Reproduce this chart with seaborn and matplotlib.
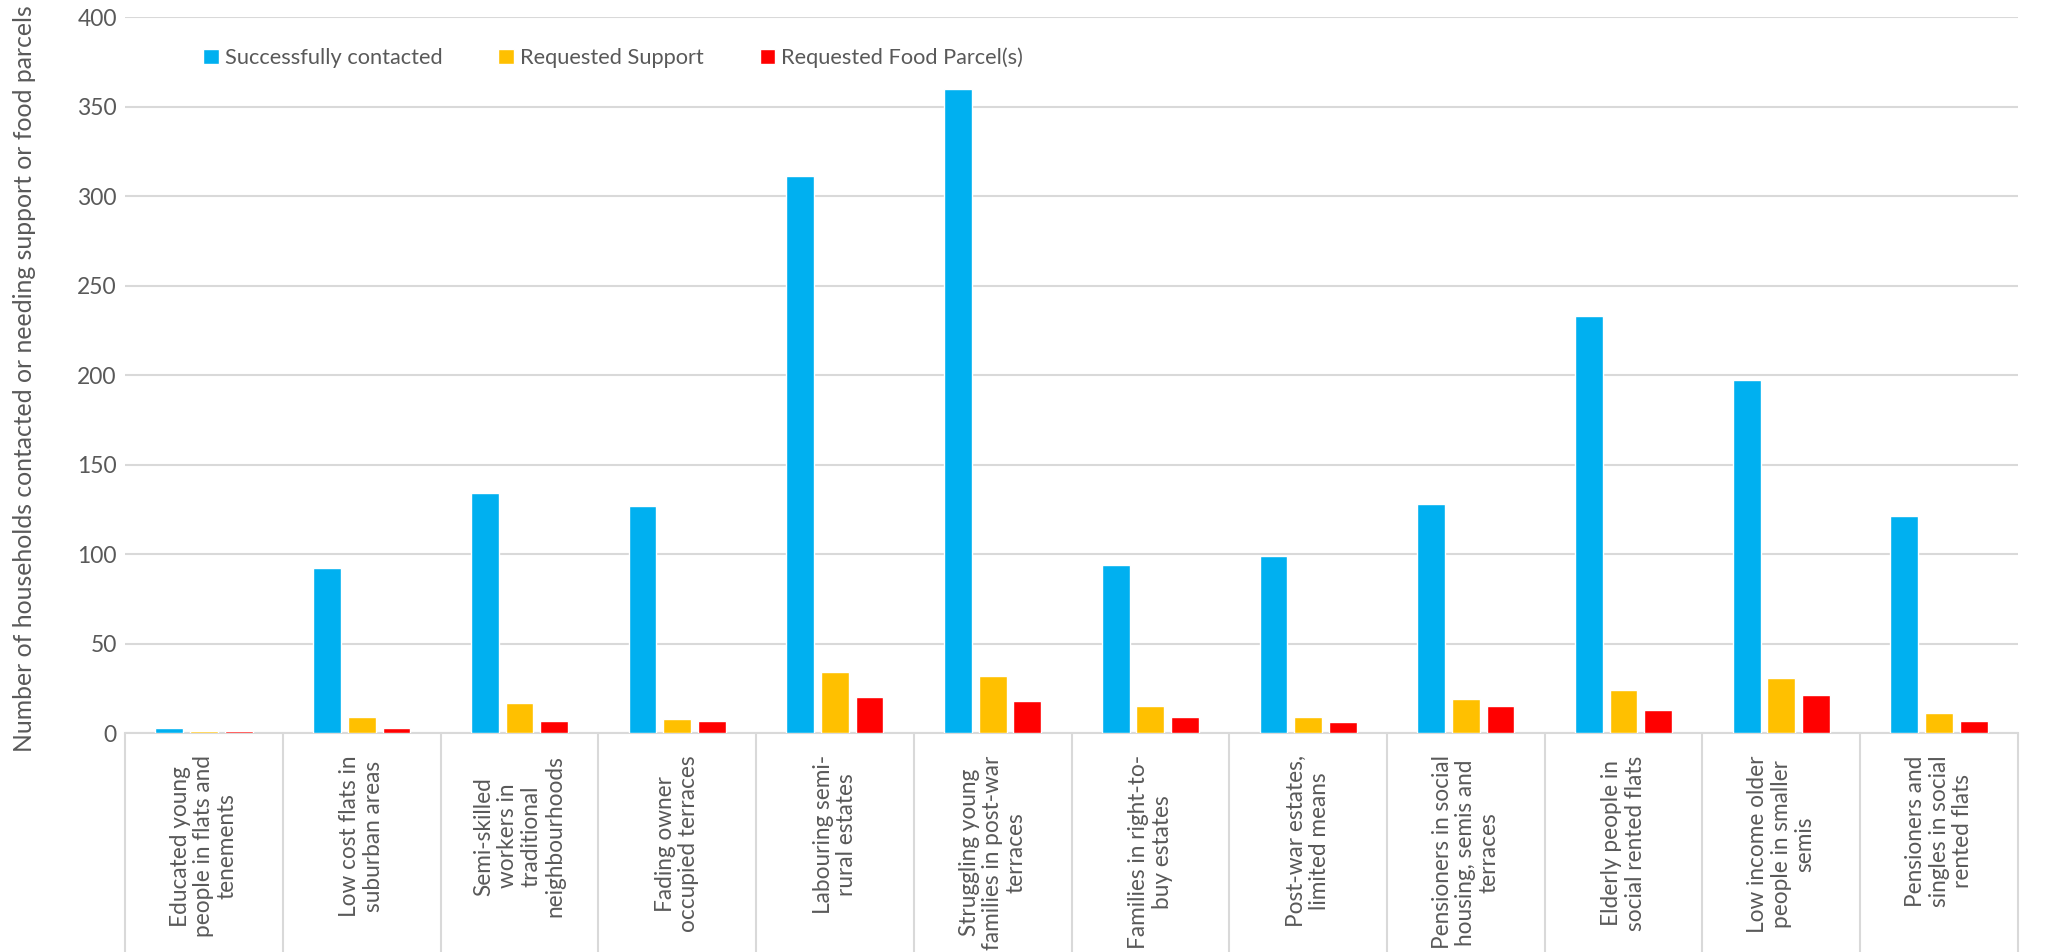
import numpy as np
import pandas as pd
import matplotlib
matplotlib.use("Agg")
import matplotlib.pyplot as plt
import seaborn as sns

# data
categories = [
    "Educated young\npeople in flats and\ntenements",
    "Low cost flats in\nsuburban areas",
    "Semi-skilled\nworkers in\ntraditional\nneighbourhoods",
    "Fading owner\noccupied terraces",
    "Labouring semi-\nrural estates",
    "Struggling young\nfamilies in post-war\nterraces",
    "Families in right-to-\nbuy estates",
    "Post-war estates,\nlimited means",
    "Pensioners in social\nhousing, semis and\nterraces",
    "Elderly people in\nsocial rented flats",
    "Low income older\npeople in smaller\nsemis",
    "Pensioners and\nsingles in social\nrented flats",
]
series_names = ["Successfully contacted", "Requested Support", "Requested Food Parcel(s)"]
contacted = [3, 92, 134, 127, 311, 360, 94, 99, 128, 233, 197, 121]
support = [1, 9, 17, 8, 34, 32, 15, 9, 19, 24, 31, 11]
food_parcels = [1, 3, 7, 7, 20, 18, 9, 6, 15, 13, 21, 7]
colors = ["#00B0F0", "#FFC000", "#FF0000"]

df = pd.DataFrame({
    "category": categories * 3,
    "series": np.repeat(series_names, len(categories)),
    "value": contacted + support + food_parcels,
})

sns.set_style("white")
plt.rcParams["font.family"] = ["Lato", "DejaVu Sans"]
grey_text = "#595959"
grid_col = "#d9d9d9"

fig = plt.figure(figsize=(20.47, 9.52), dpi=100)
ax = fig.add_axes([0.0611, 0.230, 0.9247, 0.752])

sns.barplot(data=df, x="category", y="value", hue="series", palette=colors,
            width=0.66, gap=0.2, saturation=1, ax=ax, legend=True, zorder=3)

ax.set_ylim(0, 400)
ax.set_xlim(-0.5, len(categories) - 0.5)
ax.set_yticks(np.arange(0, 401, 50))
ax.yaxis.grid(True, color=grid_col, linewidth=1.5)
ax.set_axisbelow(True)
for s in ["top", "right", "left"]:
    ax.spines[s].set_visible(False)
ax.spines["bottom"].set_color(grid_col)
ax.spines["bottom"].set_linewidth(1.5)
ax.spines["bottom"].set_zorder(1)

ax.set_xlabel("")
ax.set_ylabel("Number of households contacted or needing support or food parcels",
              fontsize=17.8, color=grey_text)
ax.yaxis.set_label_coords(-0.047, 0.495)
ax.tick_params(axis="y", left=False, length=0, labelsize=16.5, labelcolor=grey_text, pad=6)
ax.tick_params(axis="x", which="major", bottom=False, length=0, labelsize=16.3,
               labelcolor=grey_text, pad=16)

# long separators between categories, like Excel's category axis
ax.set_xticks(np.arange(-0.5, len(categories)), minor=True)
ax.tick_params(axis="x", which="minor", bottom=True, length=160, width=1.5, color=grid_col)

for lbl in ax.get_xticklabels():
    lbl.set_rotation(90)
    lbl.set_ha("center")
    lbl.set_va("top")
    lbl.set_multialignment("center")
    lbl.set_linespacing(1.15)

ax.legend(loc="upper left", bbox_to_anchor=(0.031, 0.985), ncol=3, frameon=False,
          fontsize=15.7, handlelength=0.7, handleheight=0.7, handletextpad=0.3,
          columnspacing=2.55, labelcolor=grey_text)

fig.savefig("out.png", dpi=100)
